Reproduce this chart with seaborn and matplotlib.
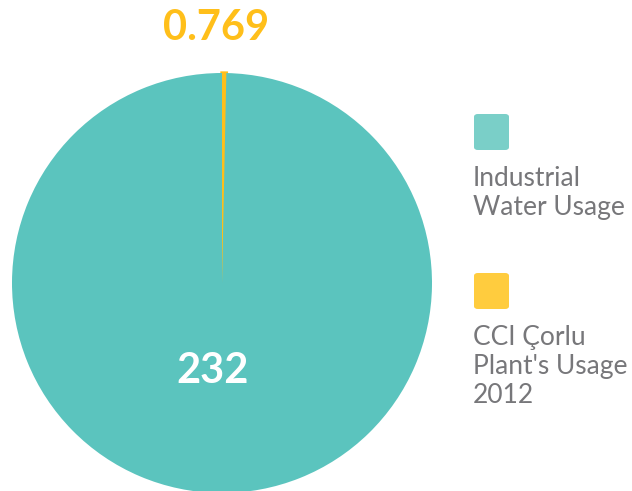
import matplotlib
matplotlib.use("Agg")
import matplotlib.pyplot as plt
import seaborn as sns
from matplotlib.patches import FancyBboxPatch

categories = ["CCI Çorlu\nPlant's Usage\n2012", "Industrial\nWater Usage"]
values = [0.769, 232]
value_labels = ["0.769", "232"]

pie_colors = ["#FFBF1A", "#5BC4BE"]
legend_colors = ["#FFCC3E", "#7ACFC8"]

sns.set_theme(style="white")
plt.rcParams['font.family'] = ['Lato', 'DejaVu Sans']

W, H = 632, 491
fig = plt.figure(figsize=(W / 100, H / 100), dpi=100)
fig.patch.set_facecolor("white")

cx, cy, r = 222, 283, 210
ax = fig.add_axes([(cx - r) / W, (H - cy - r) / H, 2 * r / W, 2 * r / H])
wedges, _ = ax.pie(values, colors=pie_colors, startangle=90, counterclock=False,
                   radius=1, wedgeprops=dict(linewidth=0))
wedges[0].set_edgecolor(pie_colors[0])
wedges[0].set_linewidth(2.4)
ax.set_xlim(-1, 1)
ax.set_ylim(-1, 1)
ax.set_aspect("equal")
ax.axis("off")

# value labels
fig.text(216 / W, 1 - 28 / H, value_labels[0], color="#FFBF1A", fontsize=30,
         fontweight="bold", ha="center", va="center")
fig.text(213 / W, 1 - 371 / H, value_labels[1], color="white", fontsize=30,
         fontweight="bold", ha="center", va="center")

# legend
leg_items = [(legend_colors[1], categories[1], 114), (legend_colors[0], categories[0], 273)]
for col, lab, ytop in leg_items:
    box = FancyBboxPatch((474 / W, 1 - (ytop + 36) / H), 35 / W, 36 / H,
                         boxstyle="round,pad=0,rounding_size=0.006",
                         transform=fig.transFigure, facecolor=col, edgecolor="none")
    fig.patches.append(box)
    fig.text(473 / W, 1 - (ytop + 52) / H, lab, color="#77777A", fontsize=19,
             ha="left", va="top", linespacing=1.2)

fig.savefig("out.png", dpi=100, facecolor="white")
